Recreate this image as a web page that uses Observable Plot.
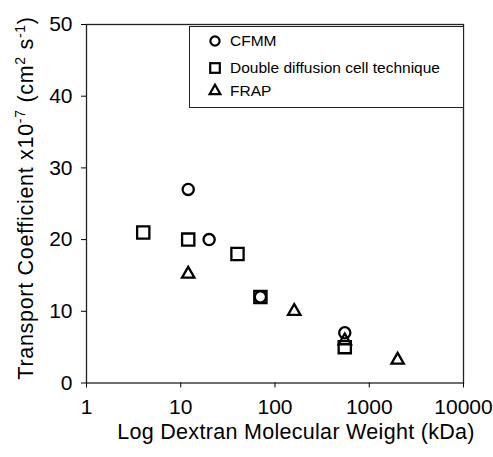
<!DOCTYPE html>
<html><head><meta charset="utf-8">
<script src="https://cdn.jsdelivr.net/npm/d3@7"></script>
<script src="https://cdn.jsdelivr.net/npm/@observablehq/plot@0.6"></script>
<style>
html,body{margin:0;padding:0;background:#fff;}
#wrap{position:relative;width:493px;height:457px;font-family:"Liberation Sans",Arial,sans-serif;color:#000;}
#legend{position:absolute;left:189px;top:26px;width:275px;height:82px;border:1.3px solid #222;box-sizing:border-box;background:#fff;font-size:15.5px;}
#legend .row{position:absolute;left:0;height:20px;display:flex;align-items:center;}
#legend svg{margin-left:19px;margin-right:9px;overflow:visible;}
</style>
</head><body>
<div id="wrap"><div id="legend"></div></div>
<script>
// Data
const seriesNames = ["CFMM", "Double diffusion cell technique", "FRAP"];
const cfmmMW = [12, 20, 70, 550];
const cfmmT  = [27, 20, 12, 7];
const ddMW   = [4, 12, 40, 70, 550];
const ddT    = [21, 20, 18, 12, 5];
const frapMW = [12, 160, 550, 2000];
const frapT  = [15.2, 10, 5.9, 3.2];
const xTicks = [1, 10, 100, 1000, 10000];
const yTicks = [0, 10, 20, 30, 40, 50];

const toRows = (mw, t) => mw.map((m, i) => ({mw: m, t: t[i]}));
const cfmm = toRows(cfmmMW, cfmmT);
const dd = toRows(ddMW, ddT);
const frap = toRows(frapMW, frapT);

const common = {x: "mw", y: "t", stroke: "#000", fill: "none", strokeWidth: 2.3, strokeLinejoin: "miter"};

const chart = Plot.plot({
  width: 493, height: 457,
  marginLeft: 86, marginRight: 30, marginTop: 24, marginBottom: 74.5,
  style: {fontFamily: "'Liberation Sans', Arial, sans-serif", fontSize: "21px", background: "#fff", color: "#000"},
  x: {type: "log", domain: [1, 10000]},
  y: {domain: [0, 50]},
  marks: [
    Plot.frame({stroke: "#222", strokeWidth: 1.3}),
    Plot.axisX({ticks: xTicks, tickFormat: d3.format("d"), tickSize: 5, tickPadding: 11, fontSize: 21, label: null}),
    Plot.axisY({ticks: yTicks, tickSize: 5, tickPadding: 9, fontSize: 21, label: null}),
    Plot.dot(dd, {...common, symbol: "square", r: 6.9}),
    Plot.dot(cfmm, {...common, symbol: "circle", r: 5.6}),
    Plot.dot(frap, {...common, symbol: "triangle", r: 4.6})
  ]
});
document.getElementById("wrap").prepend(chart);

// Axis titles
const svg = d3.select(chart);
svg.append("text")
  .attr("x", 296).attr("y", 439)
  .attr("text-anchor", "middle")
  .attr("font-size", 21.5)
  .attr("letter-spacing", 0.3)
  .attr("fill", "#000")
  .text("Log Dextran Molecular Weight (kDa)");

const yl = svg.append("text")
  .attr("transform", "translate(33,198) rotate(-90)")
  .attr("text-anchor", "middle")
  .attr("font-size", 21.5)
  .attr("letter-spacing", 0.7)
  .attr("fill", "#000");
yl.append("tspan").text("Transport Coefficient x10");
yl.append("tspan").attr("dy", -8).attr("font-size", 14).text("-7");
yl.append("tspan").attr("dy", 8).text(" (cm");
yl.append("tspan").attr("dy", -8).attr("font-size", 14).text("2");
yl.append("tspan").attr("dy", 8).text(" s");
yl.append("tspan").attr("dy", -8).attr("font-size", 14).text("-1");
yl.append("tspan").attr("dy", 8).text(")");

// Legend
const legend = d3.select("#legend");
const symbolsLeg = [
  g => g.append("circle").attr("r", 4.6),
  g => g.append("rect").attr("x", -4.8).attr("y", -4.8).attr("width", 9.6).attr("height", 9.6),
  g => g.append("path").attr("d", d3.symbol(d3.symbolTriangle, 50)())
];
const rowTops = [4, 31, 54];
seriesNames.forEach((name, i) => {
  const row = legend.append("div").attr("class", "row").style("top", rowTops[i] + "px");
  const s = row.append("svg").attr("width", 12).attr("height", 12)
    .append("g").attr("transform", "translate(6,6)")
    .attr("fill", "none").attr("stroke", "#000").attr("stroke-width", 2.2);
  symbolsLeg[i](s);
  row.append("span").text(name);
});
</script>
</body></html>
